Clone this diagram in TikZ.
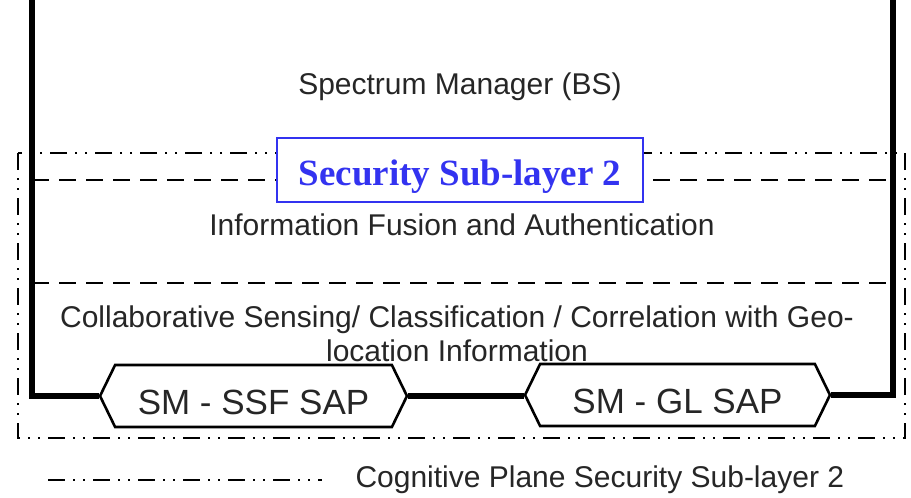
\documentclass[tikz,border=0pt]{standalone}
\usepackage{fontspec}
\setmainfont{Liberation Sans}
\newfontfamily\titlefont{Liberation Serif}
\usepackage{tikz}
\usetikzlibrary{shapes.symbols,positioning}

\definecolor{titleblue}{HTML}{3333F0}

\begin{document}
\begin{tikzpicture}[x=1pt,y=-1pt,
    busline/.style={line width=5.5pt},
    layerline/.style={line width=2.8pt,dash pattern=on 17pt off 10pt},
    planeline/.style={line width=2.6pt,dash pattern=on 17pt off 8pt on 2pt off 8pt on 2pt off 8pt},
    layertext/.style={font=\fontsize{30}{34}\selectfont,text=black!85},
    sapbox/.style={draw,signal,signal to=west and east,signal pointer angle=128,
        line width=2.6pt,fill=white,inner sep=0pt,text height=36pt,text depth=0pt,
        minimum height=62pt,font=\fontsize{35}{40}\selectfont,text=black!85}
]

\useasboundingbox (0,0) rectangle (911,498);

% cognitive plane boundary
\draw[planeline] (18,153) rectangle (905,438);

% layer separators
\draw[layerline] (32,180) -- (893,180);
\draw[layerline] (32,283) -- (893,283);

\node[draw=titleblue,
    fill=white,
    line width=2.4pt,
    minimum width=366pt,
    inner ysep=13pt,
    text height=34pt,
    text depth=4pt,
    text=titleblue,
    font=\titlefont\bfseries\fontsize{37}{40}\selectfont
] (sublayer) at (460,170) {Security Sub-layer 2};

\node[layertext] (manager) at (460,87) {Spectrum Manager (BS)};
\node[layertext] (fusion) at (462,225) {Information Fusion and Authentication};
\node[layertext,
    align=center
] (sensing) at (457,334) {Collaborative Sensing/ Classification / Correlation with Geo-\\location Information};

\node[sapbox,minimum width=307pt] (ssf) at (253.5,396) {SM - SSF SAP};
\node[sapbox,minimum width=305pt] (gl) at (677.5,395) {SM - GL SAP};

% spectrum manager bus
\coordinate (leftTop) at (32,0);
\coordinate (rightTop) at (893,0);
\draw[busline] (leftTop) |- (ssf.west);
\draw[busline] (ssf.east) -- (ssf.east -| gl.west);
\draw[busline] (gl.east) -| (rightTop);

% legend
\coordinate (legStart) at (48,480);
\coordinate (legEnd) at (322,480);
\draw[planeline] (legStart) -- (legEnd);
\node[layertext,right=30pt of legEnd] (legend) {Cognitive Plane Security Sub-layer 2};

\end{tikzpicture}
\end{document}
